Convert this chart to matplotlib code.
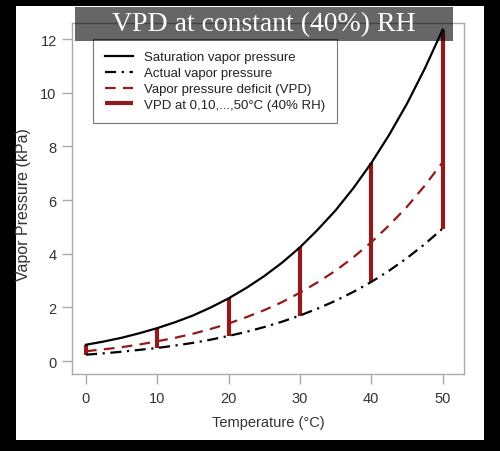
import matplotlib.pyplot as plt
from matplotlib.patches import Rectangle

plt.rcParams['font.family'] = ['Liberation Sans', 'DejaVu Sans']

# values (kPa)
temp = [0, 2.5, 5, 7.5, 10, 12.5, 15, 17.5, 20, 22.5, 25,
        27.5, 30, 32.5, 35, 37.5, 40, 42.5, 45, 47.5, 50]
sat_vp = [0.61, 0.73, 0.87, 1.04, 1.23, 1.45, 1.70, 2.00, 2.34, 2.73, 3.17,
          3.67, 4.24, 4.90, 5.62, 6.45, 7.38, 8.43, 9.59, 10.90, 12.35]
act_vp = [0.24, 0.29, 0.35, 0.42, 0.49, 0.58, 0.68, 0.80, 0.94, 1.09, 1.27,
          1.47, 1.70, 1.96, 2.25, 2.58, 2.95, 3.37, 3.84, 4.36, 4.94]
vpd = [0.37, 0.44, 0.52, 0.62, 0.74, 0.87, 1.02, 1.20, 1.40, 1.64, 1.90,
       2.20, 2.55, 2.94, 3.37, 3.87, 4.43, 5.06, 5.75, 6.54, 7.41]

bar_temp = [0, 10, 20, 30, 40, 50]
bar_low = [0.24, 0.49, 0.94, 1.70, 2.95, 4.94]
bar_high = [0.61, 1.23, 2.34, 4.24, 7.38, 12.35]

red = '#921a1a'

fig = plt.figure(figsize=(5, 4.52), dpi=100, facecolor='black')
# white panel behind the plot
fig.patches.append(Rectangle((16/500, 1-441/452), 468/500, 434/452,
                             transform=fig.transFigure, facecolor='white',
                             edgecolor='none', zorder=-10))

ax = fig.add_axes([72/500, 1-375/452, 392/500, 351/452])
ax.set_facecolor('white')

ax.vlines(bar_temp, bar_low, bar_high, color=red, lw=3, zorder=2,
          label='VPD at 0,10,...,50\u00b0C (40% RH)')
ax.plot(temp, vpd, color=red, lw=1.6, ls=(0, (4.8, 3.3)), zorder=3,
        label='Vapor pressure deficit (VPD)')
ax.plot(temp, act_vp, color='black', lw=1.6, ls=(0, (5, 2.5, 1, 2.5)), zorder=3,
        label='Actual vapor pressure')
ax.plot(temp, sat_vp, color='black', lw=1.6, zorder=4,
        label='Saturation vapor pressure')

ax.set_xlim(-1.96, 53)
ax.set_ylim(-0.48, 12.6)
ax.set_xticks(range(0, 51, 10))
ax.set_yticks(range(0, 13, 2))
for s in ax.spines.values():
    s.set_color('#aaaaaa')
    s.set_linewidth(1)
ax.tick_params(colors='#aaaaaa', labelcolor='#333333', labelsize=10.5,
               length=7, width=1)
ax.tick_params(axis='y', pad=4)
ax.tick_params(axis='x', pad=5)

fig.text(24/500, 1-205/452, 'Vapor Pressure (kPa)', rotation=90,
         ha='center', va='center', fontsize=11.5, color='#333333')
fig.text(268/500, 1-423/452, 'Temperature (\u00b0C)',
         ha='center', va='center', fontsize=10.5, color='#333333')

h, l = ax.get_legend_handles_labels()
order = [3, 2, 1, 0]
leg = ax.legend([h[i] for i in order], [l[i] for i in order],
                loc='upper left', bbox_to_anchor=(0.0536, 0.954),
                borderaxespad=0, fontsize=9.5, labelspacing=0.28,
                handlelength=2.1, handletextpad=0.9, borderpad=0.9,
                fancybox=False, framealpha=1, edgecolor='#777777')
leg.get_frame().set_linewidth(0.8)
for t in leg.get_texts():
    t.set_color('#222222')

# translucent title banner over the top of the axes
fig.patches.append(Rectangle((75/500, 1-42/452), 378/500, 34/452,
                             transform=fig.transFigure, facecolor='black',
                             alpha=0.6, edgecolor='none', zorder=10))
fig.text(264/500, 1-25/452, 'VPD at constant (40%) RH', ha='center',
         va='center', fontsize=20, color='white',
         family='Liberation Serif', zorder=11)

fig.savefig('out.png', dpi=100, facecolor='black')
